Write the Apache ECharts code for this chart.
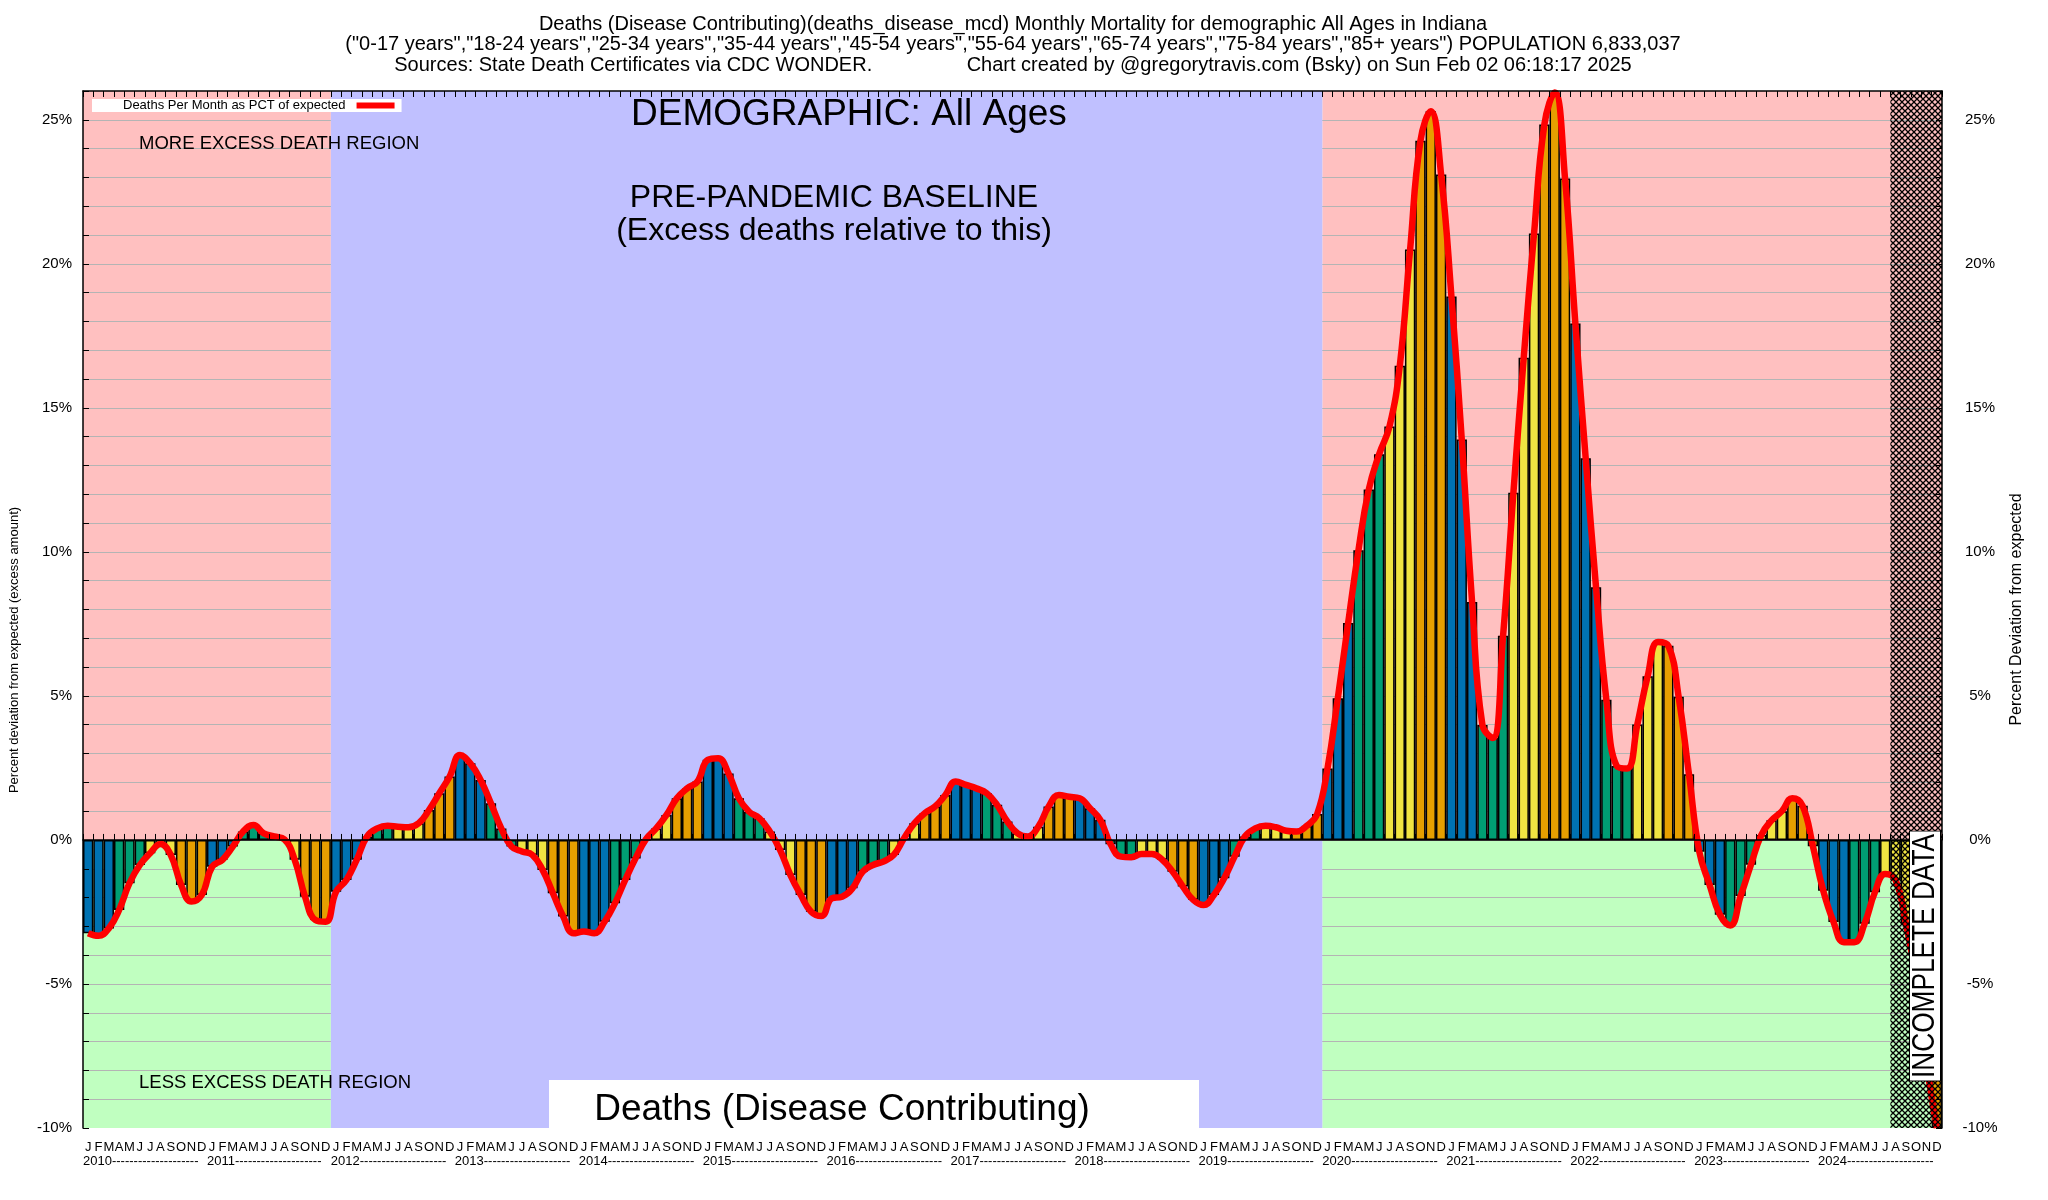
<!DOCTYPE html>
<html>
<head>
<meta charset="utf-8">
<script src="https://cdn.jsdelivr.net/npm/echarts@6/dist/echarts.min.js"></script>
<style>
html,body{margin:0;padding:0;background:#fff;}
#chart{width:2048px;height:1200px;}
</style>
</head>
<body>
<div id="chart"></div>
<script>
// ---------- DATA ----------
const years = [2010, 2011, 2012, 2013, 2014, 2015, 2016, 2017, 2018, 2019, 2020, 2021, 2022, 2023, 2024];
const monthLetters = ['J', 'F', 'M', 'A', 'M', 'J', 'J', 'A', 'S', 'O', 'N', 'D'];
const yLabelValues = [-10, -5, 0, 5, 10, 15, 20, 25];

const v2010 = [-3.24, -3.33, -3.07, -2.43, -1.50, -0.87, -0.46, -0.14, -0.52, -1.56, -2.14, -1.91];
const v2011 = [-0.93, -0.69, -0.23, 0.29, 0.52, 0.23, 0.12, 0.02, -0.69, -1.97, -2.78, -2.84];
const v2012 = [-1.80, -1.39, -0.69, 0.12, 0.40, 0.49, 0.46, 0.44, 0.58, 1.04, 1.62, 2.20];
const v2013 = [2.95, 2.66, 2.08, 1.27, 0.40, -0.23, -0.40, -0.52, -1.04, -1.85, -2.66, -3.24];
const v2014 = [-3.18, -3.24, -2.84, -2.20, -1.39, -0.64, 0.02, 0.40, 0.87, 1.45, 1.79, 2.03];
const v2015 = [2.78, 2.84, 2.31, 1.45, 0.98, 0.75, 0.29, -0.35, -1.22, -1.91, -2.49, -2.64];
const v2016 = [-2.03, -1.97, -1.68, -1.10, -0.87, -0.75, -0.52, 0.06, 0.58, 0.93, 1.16, 1.56];
const v2017 = [2.03, 1.91, 1.79, 1.62, 1.22, 0.64, 0.23, 0.12, 0.46, 1.16, 1.56, 1.50];
const v2018 = [1.45, 1.10, 0.70, -0.15, -0.58, -0.60, -0.49, -0.49, -0.69, -1.10, -1.62, -2.08];
const v2019 = [-2.26, -1.91, -1.33, -0.58, 0.12, 0.40, 0.49, 0.44, 0.32, 0.29, 0.49, 0.90];
const v2020 = [2.48, 4.92, 7.53, 10.06, 12.17, 13.39, 14.35, 16.46, 20.50, 24.27, 25.30, 23.10];
const v2021 = [18.87, 13.90, 8.26, 3.99, 3.54, 7.09, 12.05, 16.74, 21.05, 24.84, 25.95, 22.96];
const v2022 = [17.93, 13.25, 8.77, 4.87, 2.57, 2.48, 4.01, 5.68, 6.87, 6.74, 4.97, 2.28];
const v2023 = [-0.41, -1.56, -2.60, -2.97, -1.95, -0.86, 0.17, 0.68, 1.00, 1.45, 1.19, -0.22];
const v2024 = [-1.76, -2.85, -3.55, -3.55, -2.91, -1.82, -1.18, -1.39, -2.90, -4.86, -7.75, -10.00];

// region definitions (month index ranges)
const preRange = [0, 24];        // 2010-2011 pink/green
const baselineRange = [24, 120]; // 2012-2019 blue
const postRange = [120, 180];    // 2020-2024 pink/green
const incompleteRange = [175, 180];

// ---------- BUILD ----------
const values = [].concat(v2010, v2011, v2012, v2013, v2014, v2015, v2016, v2017, v2018, v2019, v2020, v2021, v2022, v2023, v2024);
const categories = [];
years.forEach(y => monthLetters.forEach((m, i) => categories.push(y + '-' + (i + 1))));
const quarterColors = ['#0072B2', '#009E73', '#F0E442', '#E69F00'];
const barData = values.map((v, i) => ({
  value: v,
  itemStyle: { color: quarterColors[Math.floor((i % 12) / 3)] }
}));

const YMIN = -10, YMAX = 26;
const gridVals = [];
for (let v = YMIN + 1; v < YMAX; v++) gridVals.push(v);

// crosshatch pattern
const pc = document.createElement('canvas');
pc.width = 6; pc.height = 6;
const pctx = pc.getContext('2d');
pctx.strokeStyle = '#000';
pctx.lineWidth = 1.3;
pctx.beginPath();
pctx.moveTo(-1, -1); pctx.lineTo(7, 7);
pctx.moveTo(7, -1); pctx.lineTo(-1, 7);
pctx.stroke();

const FONT = "'Liberation Sans', Arial, sans-serif";

const titleText =
  'Deaths (Disease Contributing)(deaths_disease_mcd) Monthly Mortality for demographic All Ages in Indiana\n' +
  '("0-17 years","18-24 years","25-34 years","35-44 years","45-54 years","55-64 years","65-74 years","75-84 years","85+ years") POPULATION 6,833,037\n' +
  'Sources: State Death Certificates via CDC WONDER.                 Chart created by @gregorytravis.com (Bsky) on Sun Feb 02 06:18:17 2025';

const chart = echarts.init(document.getElementById('chart'), null, { renderer: 'canvas' });

const solid = (c) => ({ color: c, opacity: 1 });

const option = {
  animation: false,
  backgroundColor: '#fff',
  title: {
    text: titleText,
    left: 1013,
    textAlign: 'center',
    top: 14,
    padding: 0,
    textStyle: { fontFamily: FONT, fontSize: 20, fontWeight: 'normal', color: '#000', lineHeight: 20.5 }
  },
  legend: {
    data: [{ name: 'Deaths Per Month as PCT of expected', icon: 'rect' }],
    left: 92, top: 99,
    align: 'right',
    backgroundColor: '#fff',
    padding: [0, 7, 0, 31],
    itemWidth: 38, itemHeight: 6,
    textStyle: { fontFamily: FONT, fontSize: 13, color: '#000', padding: [0, 6, 0, 0] }
  },
  grid: { left: 83, right: 106, top: 91, bottom: 72, containLabel: false },
  xAxis: [
    {
      type: 'category', data: categories, position: 'bottom', z: 10,
      axisLine: { show: true, lineStyle: { color: '#000', width: 1.5 } },
      axisTick: { show: true, inside: true, length: 6, interval: 0, lineStyle: { color: '#000' } },
      axisLabel: {
        interval: 0, margin: 13, fontFamily: FONT, fontSize: 13, color: '#000',
        formatter: (v) => monthLetters[Number(v.split('-')[1]) - 1]
      },
      splitLine: { show: false }
    },
    {
      type: 'value', min: 0, max: 180, interval: 12, position: 'bottom', z: 10,
      axisLine: { show: false }, axisTick: { show: false }, splitLine: { show: false },
      axisLabel: {
        margin: 27, align: 'left', fontFamily: FONT, fontSize: 13, color: '#000',
        showMinLabel: true, showMaxLabel: false, hideOverlap: false,
        formatter: (v) => (v < 180 ? years[v / 12] + '-'.repeat(20) : '')
      }
    },
    {
      type: 'category', data: categories, position: 'top', z: 10,
      axisLine: { show: true, lineStyle: { color: '#000', width: 1.5 } },
      axisTick: { show: true, inside: true, length: 6, interval: 0, lineStyle: { color: '#000' } },
      axisLabel: { show: false }, splitLine: { show: false }
    }
  ],
  yAxis: [
    {
      type: 'value', min: YMIN, max: YMAX, interval: 1, position: 'left', z: 10,
      axisLine: { show: true, lineStyle: { color: '#000', width: 1.5 } },
      axisTick: { show: true, inside: true, length: 6, lineStyle: { color: '#000' } },
      axisLabel: {
        margin: 11, fontFamily: FONT, fontSize: 15, color: '#000',
        formatter: (v) => (yLabelValues.indexOf(v) >= 0 ? v + '%' : '')
      },
      splitLine: { show: false }
    },
    {
      type: 'value', min: YMIN, max: YMAX, interval: 1, position: 'right', z: 10,
      name: 'Percent Deviation from expected',
      nameLocation: 'middle', nameGap: 66, nameRotate: 90,
      nameTextStyle: { fontFamily: FONT, fontSize: 16, color: '#000' },
      axisLine: { show: true, lineStyle: { color: '#000', width: 1.5 } },
      axisTick: { show: true, inside: true, length: 6, lineStyle: { color: '#000' } },
      axisLabel: {
        margin: 38, align: 'center', fontFamily: FONT, fontSize: 15, color: '#000',
        formatter: (v) => (yLabelValues.indexOf(v) >= 0 ? v + '%' : '')
      },
      splitLine: { show: false }
    }
  ],
  series: [
    { // pink / green regions
      type: 'line', xAxisIndex: 1, yAxisIndex: 0, data: [], z: 1, silent: true,
      markArea: {
        silent: true, z: 1,
        data: [
          [{ xAxis: preRange[0], yAxis: 0, itemStyle: solid('#FFC0C0') }, { xAxis: preRange[1], yAxis: YMAX }],
          [{ xAxis: preRange[0], yAxis: YMIN, itemStyle: solid('#C0FFC0') }, { xAxis: preRange[1], yAxis: 0 }],
          [{ xAxis: postRange[0], yAxis: 0, itemStyle: solid('#FFC0C0') }, { xAxis: postRange[1], yAxis: YMAX }],
          [{ xAxis: postRange[0], yAxis: YMIN, itemStyle: solid('#C0FFC0') }, { xAxis: postRange[1], yAxis: 0 }]
        ]
      }
    },
    { // gridlines
      type: 'line', xAxisIndex: 1, yAxisIndex: 0, data: [], z: 2, silent: true,
      markLine: {
        silent: true, z: 2, symbol: 'none', animation: false,
        label: { show: false },
        lineStyle: { color: '#B4B4B4', width: 1.2, type: 'solid', opacity: 1 },
        data: gridVals.map(v => ({ yAxis: v }))
      }
    },
    { // baseline blue region
      type: 'line', xAxisIndex: 1, yAxisIndex: 0, data: [], z: 3, silent: true,
      markArea: {
        silent: true, z: 3,
        data: [
          [{ xAxis: baselineRange[0], yAxis: YMIN, itemStyle: solid('#C0C0FF') }, { xAxis: baselineRange[1], yAxis: YMAX }]
        ]
      }
    },
    {
      name: 'bars', type: 'bar', xAxisIndex: 0, yAxisIndex: 0, data: barData, z: 4,
      barCategoryGap: '0%',
      itemStyle: { borderColor: '#000', borderWidth: 1.5 }
    },
    {
      name: 'Deaths Per Month as PCT of expected', type: 'line', xAxisIndex: 0, yAxisIndex: 0,
      data: values, z: 5, smooth: 0.45, symbol: 'none',
      lineStyle: { color: '#FF0000', width: 6.5 },
      itemStyle: { color: '#FF0000' }
    },
    { // incomplete data hatch
      type: 'line', xAxisIndex: 1, yAxisIndex: 0, data: [], z: 6, silent: true,
      markArea: {
        silent: true, z: 6,
        data: [
          [{ xAxis: incompleteRange[0], yAxis: YMIN, itemStyle: { color: { image: pc, repeat: 'repeat' }, opacity: 1 } },
           { xAxis: incompleteRange[1], yAxis: YMAX }]
        ]
      }
    }
  ],
  graphic: [
    {
      type: 'text', z: 100, x: 14, y: 650, rotation: Math.PI / 2,
      style: {
        text: 'Percent deviation from expected (excess amount)', align: 'center', verticalAlign: 'middle',
        font: "13px 'Liberation Sans', Arial, sans-serif", fill: '#000'
      }
    },
    {
      type: 'text', z: 100, left: 631, top: 96,
      style: { text: 'DEMOGRAPHIC: All Ages', font: "37px 'Liberation Sans', Arial, sans-serif", fill: '#000' }
    },
    {
      type: 'text', z: 100, x: 834, y: 182,
      style: {
        text: 'PRE-PANDEMIC BASELINE\n(Excess deaths relative to this)', align: 'center',
        font: "32px 'Liberation Sans', Arial, sans-serif", lineHeight: 33, fill: '#000'
      }
    },
    {
      type: 'text', z: 100, left: 139, top: 134,
      style: { text: 'MORE EXCESS DEATH REGION', font: "18.5px 'Liberation Sans', Arial, sans-serif", fill: '#000' }
    },
    {
      type: 'text', z: 100, left: 139, top: 1073,
      style: { text: 'LESS EXCESS DEATH REGION', font: "18.5px 'Liberation Sans', Arial, sans-serif", fill: '#000' }
    },
    {
      type: 'rect', z: 100, shape: { x: 549, y: 1080, width: 650, height: 51 },
      style: { fill: '#fff' }
    },
    {
      type: 'text', z: 101, x: 842, y: 1110,
      style: {
        text: 'Deaths (Disease Contributing)', align: 'center', verticalAlign: 'middle',
        font: "37px 'Liberation Sans', Arial, sans-serif", fill: '#000'
      }
    },
    {
      type: 'text', z: 102, x: 1925, y: 956, rotation: Math.PI / 2, scaleX: 0.82,
      style: {
        text: 'INCOMPLETE DATA', align: 'center', verticalAlign: 'middle',
        font: "32px 'Liberation Sans', Arial, sans-serif", fill: '#000',
        backgroundColor: '#fff', borderColor: '#000', borderWidth: 1, padding: [0, 3, -2, 3]
      }
    }
  ]
};
chart.setOption(option);
</script>
</body>
</html>
